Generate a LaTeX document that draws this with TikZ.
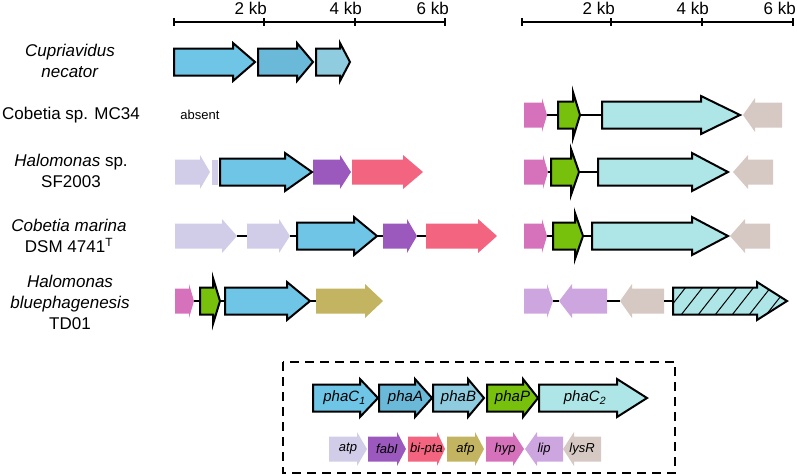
\documentclass[tikz,border=0pt]{standalone}
\usepackage{tikz}
\usepackage{xcolor}
\usepackage{fontspec}
\setmainfont{Liberation Sans}

\definecolor{cphaCa}{RGB}{110,197,229}
\definecolor{cphaA}{RGB}{107,185,216}
\definecolor{cphaB}{RGB}{143,204,224}
\definecolor{cphaP}{RGB}{119,192,12}
\definecolor{cphaCb}{RGB}{174,230,232}
\definecolor{catp}{RGB}{209,204,232}
\definecolor{cfabI}{RGB}{155,89,190}
\definecolor{cbipta}{RGB}{242,100,128}
\definecolor{cafp}{RGB}{194,180,96}
\definecolor{chyp}{RGB}{213,114,187}
\definecolor{clip}{RGB}{205,166,223}
\definecolor{clysR}{RGB}{214,200,195}

% gene arrow on row #1: body from #2 to head base #3, tip at #4
\newcommand{\genepath}[4]{(#2,#1-\bh) -- (#3,#1-\bh) -- (#3,#1-\hh) -- (#4,#1) -- (#3,#1+\hh) -- (#3,#1+\bh) -- (#2,#1+\bh) -- cycle}
\newcommand{\gene}[6]{%
  \path [#1] \genepath{#3}{#4}{#5}{#6};
  \coordinate (#2-s) at (#4,#3);
  \coordinate (#2-e) at (#6,#3);
  \coordinate (#2-m) at ({(#4+#6)/2},#3);
}

\begin{document}
\begin{tikzpicture}[x=1pt,y=-1pt,
    pha/.style={draw=black,line width=2pt},
    link/.style={line width=1.2pt},
    bar/.style={line width=2pt},
    kb/.style={font=\fontsize{17}{20}\selectfont,anchor=base east,inner sep=0pt},
    lab/.style={align=center,font=\fontsize{17}{21}\selectfont},
    legbig/.style={font=\fontsize{15}{18}\selectfont\itshape,inner sep=0pt},
    legsmall/.style={font=\fontsize{13}{16}\selectfont\itshape,inner sep=0pt}]
\useasboundingbox (0,0) rectangle (797,475);

% scale bars
\draw [bar] (174,22) -- (445,22);
\foreach \x in {174,264,355,445} \draw [bar] (\x,18) -- (\x,26);
\draw [bar] (522,22) -- (793,22);
\foreach \x in {522,611,702,793} \draw [bar] (\x,18) -- (\x,26);
\node [kb] (kbla) at (267,14) {2 kb};
\node [kb] (kblb) at (362,14) {4 kb};
\node [kb] (kblc) at (449,14) {6 kb};
\node [kb] (kbra) at (615,14) {2 kb};
\node [kb] (kbrb) at (709,14) {4 kb};
\node [kb] (kbrc) at (796,14) {6 kb};

% strains
\node [lab] (cupr) at (70,61) {\textit{Cupriavidus}\\\textit{necator}};
\node [lab] (mc34) at (71,115) {Cobetia sp. MC34};
\node [lab] (sf2003) at (71,171) {\textit{Halomonas} sp.\\SF2003};
\node [lab] (cmar) at (69,236) {\textit{Cobetia marina}\\DSM 4741\textsuperscript{T}};
\node [lab] (hblue) at (70,302) {\textit{Halomonas}\\\textit{bluephagenesis}\\TD01};
\node [font=\fontsize{13}{16}\selectfont] (absent) at (200,115) {absent};

% other genes
\def\bh{12.5}\def\hh{17}
\gene{fill=chyp}{mcHyp}{115}{524}{542}{547}
\gene{fill=clysR}{mcLysR}{115}{782}{755}{743}
\gene{fill=catp}{sfAtp}{172}{175}{200}{210}
\fill [catp] (212,172-12.5) rectangle (218,172+12.5);
\gene{fill=cfabI}{sfFabI}{172}{313}{340}{351}
\gene{fill=cbipta}{sfBipta}{172}{352}{403}{423}
\gene{fill=chyp}{sfHyp}{172}{524}{543}{548}
\gene{fill=clysR}{sfLysR}{172}{773}{748}{733}
\gene{fill=catp}{cmAtpa}{236}{175}{222}{237}
\gene{fill=catp}{cmAtpb}{236}{247}{279}{290}
\gene{fill=cfabI}{cmFabI}{236}{383}{407}{417}
\gene{fill=cbipta}{cmBipta}{236}{426}{478}{497}
\gene{fill=chyp}{cmHyp}{236}{524}{542}{547}
\gene{fill=clysR}{cmLysR}{236}{770}{745}{730}
\gene{fill=chyp}{hbHyp}{301}{175}{189}{194}
\gene{fill=cafp}{hbAfp}{301}{316}{365}{383}
\gene{fill=clip}{hbLipa}{301}{524}{547}{553}
\gene{fill=clip}{hbLipb}{301}{607}{572}{559}
\gene{fill=clysR}{hbLysR}{301}{664}{632}{620}
% legend, other genes
\gene{fill=catp}{lAtp}{449}{329}{357}{367}
\gene{fill=cfabI}{lFabI}{449}{368}{397}{406}
\gene{fill=cbipta}{lBipta}{449}{408}{437}{445}
\gene{fill=cafp}{lAfp}{449}{447}{475}{484}
\gene{fill=chyp}{lHyp}{449}{486}{513}{524}
\gene{fill=clip}{lLip}{449}{563}{537}{525}
\gene{fill=clysR}{lLysR}{449}{601}{574}{563}

% pha genes
\def\bh{13.5}\def\hh{19}
\gene{pha,fill=cphaCa}{cnC1}{62}{174}{233}{255}
\gene{pha,fill=cphaA}{cnA}{62}{258}{297}{313}
\gene{pha,fill=cphaB}{cnB}{62}{316}{340}{350}
\gene{pha,fill=cphaCb}{mcC2}{115}{602}{701}{740}
\gene{pha,fill=cphaCa}{sfC1}{172}{220}{285}{312}
\gene{pha,fill=cphaCb}{sfC2}{172}{598}{692}{728}
\gene{pha,fill=cphaCa}{cmC1}{236}{297}{354}{377}
\gene{pha,fill=cphaCb}{cmC2}{236}{592}{692}{728}
\gene{pha,fill=cphaCa}{hbC1}{301}{225}{287}{310}
\fill [cphaCb] \genepath{301}{673}{757}{787};
\begin{scope}
  \clip \genepath{301}{673}{757}{787};
  \foreach \x in {664,681,...,800} \draw [line width=1pt] (\x,301+14) -- (\x+22,301-14);
\end{scope}
\gene{pha}{hbC2}{301}{673}{757}{787}
% legend, pha genes
\gene{pha,fill=cphaCa}{lC1}{398}{313}{360}{378}
\gene{pha,fill=cphaA}{lA}{398}{379}{415}{432}
\gene{pha,fill=cphaB}{lB}{398}{433}{468}{484}
\gene{pha,fill=cphaP}{lP}{398}{487}{523}{538}
\gene{pha,fill=cphaCb}{lC2}{398}{539}{617}{647}

% phaP with its tall head
\def\hh{23}
\gene{pha,fill=cphaP}{mcP}{115}{558}{573}{580}
\gene{pha,fill=cphaP}{sfP}{172}{551}{571}{579}
\gene{pha,fill=cphaP}{cmP}{236}{553}{575}{583}
\gene{pha,fill=cphaP}{hbP}{301}{200}{213}{220}

% links between genes
\draw [link] (mcHyp-e) -- (mcP-s);
\draw [link] (mcP-e) -- (mcC2-s);
\draw [link] (sfHyp-e) -- (sfP-s);
\draw [link] (sfP-e) -- (sfC2-s);
\draw [link] (cmAtpa-e) -- (cmAtpb-s);
\draw [link] (cmAtpb-e) -- (cmC1-s);
\draw [link] (cmC1-e) -- (cmFabI-s);
\draw [link] (cmFabI-e) -- (cmBipta-s);
\draw [link] (cmHyp-e) -- (cmP-s);
\draw [link] (cmP-e) -- (cmC2-s);
\draw [link] (hbHyp-e) -- (hbP-s);
\draw [link] (hbP-e) -- (hbC1-s);
\draw [link] (hbC1-e) -- (hbAfp-s);
\draw [link] (hbLipa-e) -- (hbLipb-e);
\draw [link] (hbLipb-s) -- (hbLysR-e);
\draw [link] (hbLysR-s) -- (hbC2-s);

% legend
\draw [line width=1.3pt,dash pattern=on 9pt off 6pt] (283,362) rectangle (675,473);
\node [legbig] (tC1) at ([xshift=-1pt]lC1-m) {phaC\textsubscript{1}};
\node [legbig] (tA) at (lA-m) {phaA};
\node [legbig] (tB) at (lB-m) {phaB};
\node [legbig] (tP) at (lP-m) {phaP};
\node [legbig] (tC2) at ([xshift=-8pt]lC2-m) {phaC\textsubscript{2}};
\node [legsmall] (tAtp) at (lAtp-m) {atp};
\node [legsmall] (tFabI) at (lFabI-m) {fabI};
\node [legsmall] (tBipta) at (lBipta-m) {bi-pta};
\node [legsmall] (tAfp) at (lAfp-m) {afp};
\node [legsmall] (tHyp) at (lHyp-m) {hyp};
\node [legsmall] (tLip) at (lLip-m) {lip};
\node [legsmall] (tLysR) at (lLysR-m) {lysR};
\end{tikzpicture}
\end{document}
